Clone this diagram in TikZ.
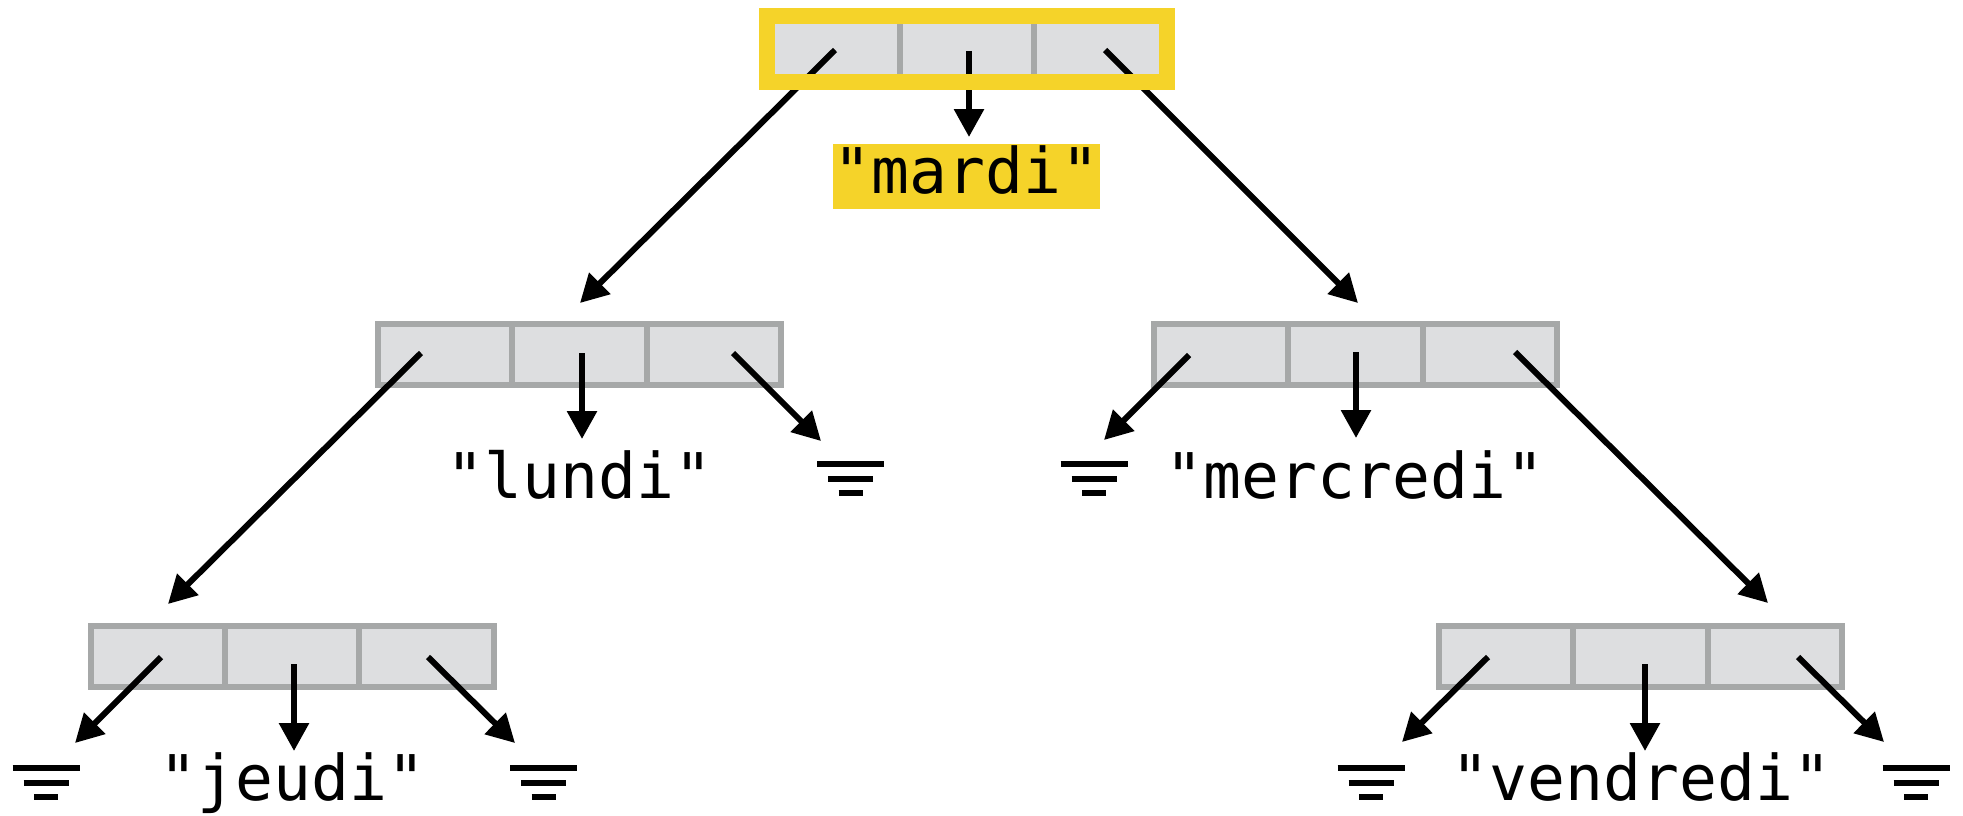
\documentclass[tikz,border=0pt]{standalone}
\usepackage{fontspec}
\setmonofont{DejaVu Sans Mono}
\usetikzlibrary{arrows.meta,calc}
\definecolor{boxfill}{RGB}{221,222,224}
\definecolor{boxline}{RGB}{166,168,168}
\definecolor{hl}{RGB}{245,211,41}
\begin{document}
\begin{tikzpicture}[x=1pt,y=-1pt,
  cell/.style={draw=boxline, fill=boxfill, line width=6pt, minimum width=403pt,
    minimum height=61pt, inner sep=0pt, outer sep=0pt},
  divider/.style={draw=boxline, line width=6pt},
  ptr/.style={line width=6pt, -{Triangle[length=28pt,width=29pt]}},
  lbl/.style={font=\fontsize{63}{70}\selectfont\ttfamily, anchor=base, inner sep=0pt},
  gline/.style={line width=6pt},
  groundsym/.pic={
    \draw[gline] (-33.5,0) -- (33.5,0);
    \draw[gline] (-22.5,14.5) -- (22.5,14.5);
    \draw[gline] (-12,29) -- (12,29);
  }
]
\useasboundingbox (0,0) rectangle (1963,816);

% boxes
\node[cell, minimum width=400pt, minimum height=66pt] (top) at (967,49.5) {};
\node[cell] (l)  at (579.5,354.5) {};
\node[cell] (r)  at (1355.5,354.5) {};
\node[cell] (ll) at (292,656.5) {};
\node[cell] (rr) at (1640.5,656.5) {};

\foreach \n in {top,l,r,ll,rr}{
  \draw[divider] ($(\n.north west)!1/3!(\n.north east)$) -- ($(\n.south west)!1/3!(\n.south east)$);
  \draw[divider] ($(\n.north west)!2/3!(\n.north east)$) -- ($(\n.south west)!2/3!(\n.south east)$);
}

% labels
\node[lbl, fill=hl, anchor=center, minimum width=267pt, minimum height=65pt,
      text height=33pt, text depth=0pt] (mardi) at (966.5,176.5) {"mardi"};
\node[lbl] (lundi) at (579.5,498) {"lundi"};
\node[lbl] (mercredi) at (1355,498) {"mercredi"};
\node[lbl] (jeudi) at (292.5,800) {"jeudi"};
\node[lbl] (vendredi) at (1641.5,800) {"vendredi"};

% ground symbols
\pic (g1) at (850.5,464) {groundsym};
\pic (g2) at (1094,464) {groundsym};
\pic (g3) at (46,768) {groundsym};
\pic (g4) at (543.5,768) {groundsym};
\pic (g5) at (1371,768) {groundsym};
\pic (g6) at (1916,768) {groundsym};

% pointer coordinates
\coordinate (top-l) at (835,50);   \coordinate (l-in)  at (580,303);
\coordinate (top-m) at (969,51);   \coordinate (mardi-in) at (969,137);
\coordinate (top-r) at (1105,50);  \coordinate (r-in)  at (1358,303);
\coordinate (l-l) at (421,353);    \coordinate (ll-in) at (168,604);
\coordinate (l-m) at (582,353);    \coordinate (lundi-in) at (582,439);
\coordinate (l-r) at (733,353);    \coordinate (g1-in) at (821,441);
\coordinate (r-l) at (1189,355);   \coordinate (g2-in) at (1104,440);
\coordinate (r-m) at (1356,352);   \coordinate (mercredi-in) at (1356,438);
\coordinate (r-r) at (1515,352);   \coordinate (rr-in) at (1768,603);
\coordinate (ll-l) at (161,657);   \coordinate (g3-in) at (75,743);
\coordinate (ll-m) at (294,664);   \coordinate (jeudi-in) at (294,751);
\coordinate (ll-r) at (428,657);   \coordinate (g4-in) at (515,743);
\coordinate (rr-l) at (1488,657);  \coordinate (g5-in) at (1402,742);
\coordinate (rr-m) at (1645,664);  \coordinate (vendredi-in) at (1645,751);
\coordinate (rr-r) at (1798,657);  \coordinate (g6-in) at (1884,742);

% pointers
\draw[ptr] (top-l) -- (l-in);
\draw[ptr] (top-m) -- (mardi-in);
\draw[ptr] (top-r) -- (r-in);
\draw[ptr] (l-l) -- (ll-in);
\draw[ptr] (l-m) -- (lundi-in);
\draw[ptr] (l-r) -- (g1-in);
\draw[ptr] (r-l) -- (g2-in);
\draw[ptr] (r-m) -- (mercredi-in);
\draw[ptr] (r-r) -- (rr-in);
\draw[ptr] (ll-l) -- (g3-in);
\draw[ptr] (ll-m) -- (jeudi-in);
\draw[ptr] (ll-r) -- (g4-in);
\draw[ptr] (rr-l) -- (g5-in);
\draw[ptr] (rr-m) -- (vendredi-in);
\draw[ptr] (rr-r) -- (g6-in);

% highlight of the root
\draw[hl, line width=16pt] (top.north west) rectangle (top.south east);
\end{tikzpicture}
\end{document}
